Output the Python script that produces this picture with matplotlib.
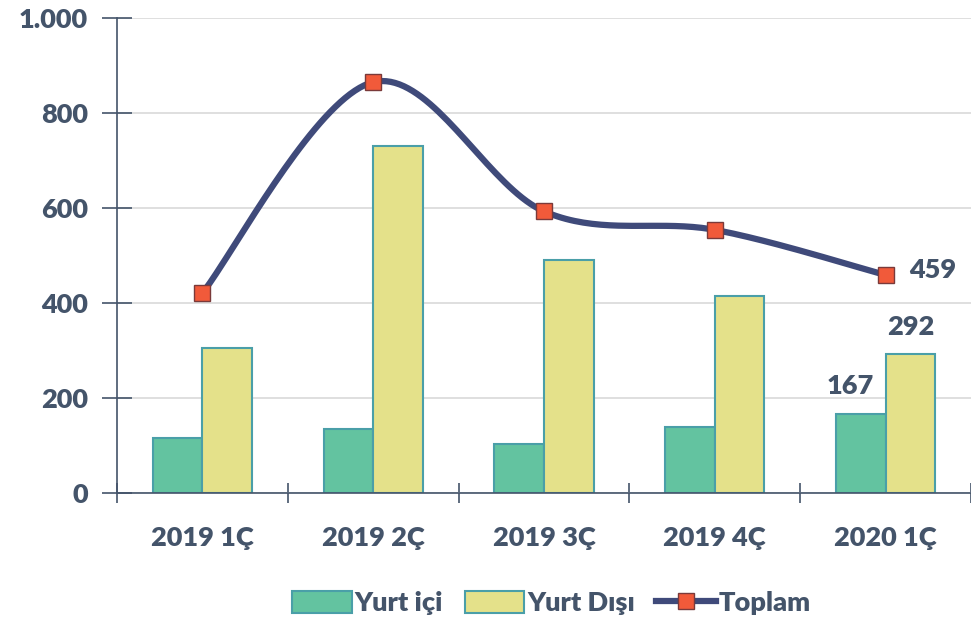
import numpy as np
import matplotlib.pyplot as plt
from matplotlib.patches import Patch
from matplotlib.lines import Line2D

# veriler
quarters = ["2019 1Ç", "2019 2Ç", "2019 3Ç", "2019 4Ç", "2020 1Ç"]
yurt_ici = [116, 135, 103, 139, 167]
yurt_disi = [305, 730, 490, 415, 292]
toplam = [421, 865, 593, 554, 459]

text_col = "#44546A"
green = "#63C3A0"
yellow = "#E4E18A"
edge = "#4A9FA8"
navy = "#3F4A7A"
orange = "#F15A3A"
fw = "heavy"
fs = 19.5

plt.rcParams["font.family"] = ["Lato", "DejaVu Sans"]

fig = plt.figure(figsize=(9.71, 6.25), dpi=100)
ax = fig.add_axes([0.1205, 0.2112, 0.8795, 0.76])

x = np.arange(len(quarters))
w = 0.29
ax.bar(x - w / 2, yurt_ici, w, color=green, edgecolor=edge, linewidth=1.5, zorder=2)
ax.bar(x + w / 2, yurt_disi, w, color=yellow, edgecolor=edge, linewidth=1.5, zorder=2)

# yumuşatılmış çizgi (Bezier)
px = x.astype(float)
py = np.array(toplam, dtype=float)
cx, cy = [], []
n = len(px)
for i in range(n - 1):
    p0 = (px[max(i - 1, 0)], py[max(i - 1, 0)])
    p1 = (px[i], py[i])
    p2 = (px[i + 1], py[i + 1])
    p3 = (px[min(i + 2, n - 1)], py[min(i + 2, n - 1)])
    c1 = (p1[0] + (p2[0] - p0[0]) / 6, p1[1] + (p2[1] - p0[1]) / 6)
    c2 = (p2[0] - (p3[0] - p1[0]) / 6, p2[1] - (p3[1] - p1[1]) / 6)
    t = np.linspace(0, 1, 40)
    bx = (1 - t) ** 3 * p1[0] + 3 * (1 - t) ** 2 * t * c1[0] + 3 * (1 - t) * t ** 2 * c2[0] + t ** 3 * p2[0]
    by = (1 - t) ** 3 * p1[1] + 3 * (1 - t) ** 2 * t * c1[1] + 3 * (1 - t) * t ** 2 * c2[1] + t ** 3 * p2[1]
    cx.extend(bx)
    cy.extend(by)
ax.plot(cx, cy, color=navy, linewidth=4.5, zorder=3, solid_capstyle="round")
ax.plot(x, toplam, linestyle="none", marker="s", markersize=11,
        markerfacecolor=orange, markeredgecolor="#7A3A3A", markeredgewidth=1, zorder=4)

# etiketler
ax.text(x[-1] - w / 2 - 0.06, yurt_ici[-1] + 33, str(yurt_ici[-1]), ha="center", va="bottom",
        fontsize=fs, fontweight=fw, color=text_col)
ax.text(x[-1] + w / 2, yurt_disi[-1] + 33, str(yurt_disi[-1]), ha="center", va="bottom",
        fontsize=fs, fontweight=fw, color=text_col)
ax.text(x[-1] + 0.14, toplam[-1] + 10, str(toplam[-1]), ha="left", va="center",
        fontsize=fs, fontweight=fw, color=text_col)

ax.set_xlim(-0.5, 4.5)
ax.set_ylim(0, 1000)
ax.set_yticks(range(0, 1001, 200))
ax.set_yticklabels(["0", "200", "400", "600", "800", "1.000"])
ax.set_xticks(x)
ax.set_xticklabels(quarters)
ax.set_xticks(np.arange(-0.5, 4.6, 1), minor=True)
ax.tick_params(axis="x", which="major", length=0, pad=24, labelsize=fs, labelcolor=text_col)
ax.tick_params(axis="x", which="minor", direction="inout", length=14, color=text_col, width=1.2)
ax.tick_params(axis="y", direction="inout", length=22, color=text_col, width=1.2,
               labelsize=fs, labelcolor=text_col, pad=10)
for lab in ax.get_xticklabels() + ax.get_yticklabels():
    lab.set_fontweight(fw)
ax.grid(axis="y", color="#D9D9D9", linewidth=1.2, zorder=0)
ax.set_axisbelow(True)
for s in ["top", "right"]:
    ax.spines[s].set_visible(False)
ax.spines["left"].set_color(text_col)
ax.spines["bottom"].set_color(text_col)
ax.spines["left"].set_linewidth(1.2)
ax.spines["bottom"].set_linewidth(1.2)

handles = [
    Patch(facecolor=green, edgecolor=edge, linewidth=1.5, label="Yurt içi"),
    Patch(facecolor=yellow, edgecolor=edge, linewidth=1.5, label="Yurt Dışı"),
    Line2D([0], [0], color=navy, linewidth=4.5, marker="s", markersize=11,
           markerfacecolor=orange, markeredgecolor="#7A3A3A", label="Toplam"),
]
leg = fig.legend(handles=handles, loc="center", bbox_to_anchor=(0.568, 0.035), ncol=3,
                 frameon=False, fontsize=fs, handlelength=2.2, handleheight=0.9,
                 handletextpad=0.1, columnspacing=0.8)
for t in leg.get_texts():
    t.set_color(text_col)
    t.set_fontweight(fw)

fig.savefig("out.png", dpi=100)
